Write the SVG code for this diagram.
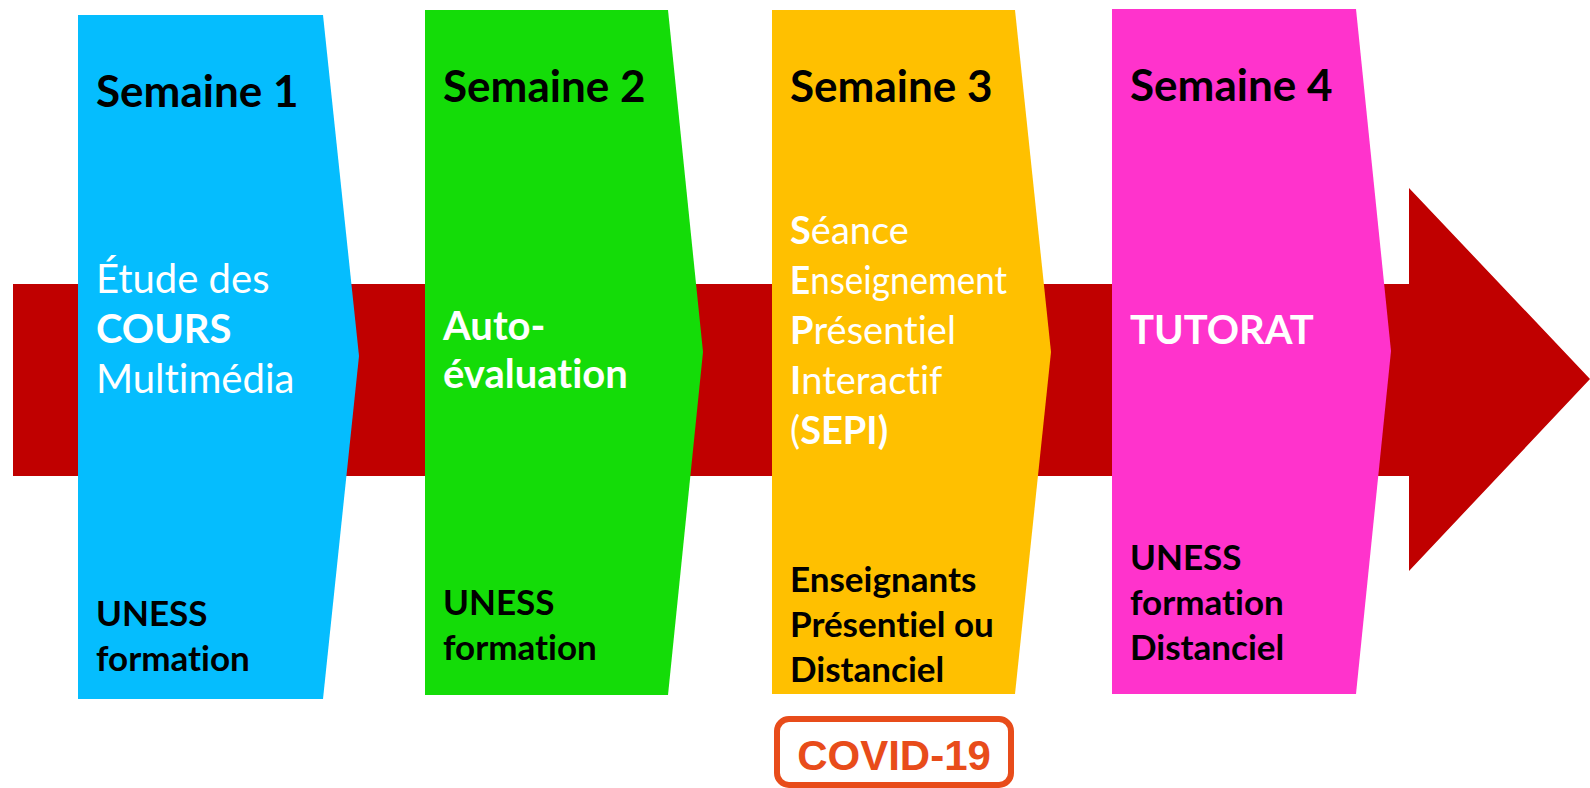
<svg xmlns="http://www.w3.org/2000/svg" width="1590" height="788" viewBox="0 0 1590 788">
<style>
text{font-family:Lato,"Open Sans","Liberation Sans",sans-serif;font-variant-ligatures:none}
.h{font-size:44px;font-weight:bold;fill:#000}
.w{font-size:40px;fill:#fff}
.s{font-size:38px;fill:#fff}
.wb{font-size:40px;fill:#fff;font-weight:bold}
.f{font-size:35px;font-weight:bold;fill:#000}
.b{font-weight:bold}
</style>
<rect width="1590" height="788" fill="#fff"/>
<g id="connectors">
<polygon points="13,284 1409,284 1409,188 1590,379 1409,571 1409,476 13,476" fill="#C00000"/>
</g>
<g id="semaine1">
<polygon points="78,15 323,15 359,356 323,699 78,699" fill="#05BDFE"/>
<text class="h" x="96" y="107">Semaine 1</text>
<text class="w" x="96" y="293">Étude des</text>
<text class="wb" x="96" y="343">COURS</text>
<text class="w" x="96" y="393">Multimédia</text>
<text class="f" x="96" y="626">UNESS</text>
<text class="f" x="96" y="671">formation</text>
</g>
<g id="semaine2">
<polygon points="425,10 668,10 703,352 668,695 425,695" fill="#14DC08"/>
<text class="h" x="443" y="102">Semaine 2</text>
<text class="wb" x="443" y="340">Auto-</text>
<text class="wb" x="443" y="388">évaluation</text>
<text class="f" x="443" y="615">UNESS</text>
<text class="f" x="443" y="660">formation</text>
</g>
<g id="semaine3">
<polygon points="772,10 1015,10 1051,352 1015,694 772,694" fill="#FFC000"/>
<text class="h" x="790" y="102">Semaine 3</text>
<text class="s" x="790" y="244"><tspan class="b">S</tspan>éance</text>
<text class="s" x="790" y="294" textLength="217" lengthAdjust="spacingAndGlyphs"><tspan class="b">E</tspan>nseignement</text>
<text class="s" x="790" y="344"><tspan class="b">P</tspan>résentiel</text>
<text class="s" x="790" y="394"><tspan class="b">I</tspan>nteractif</text>
<text class="s" x="790" y="444">(<tspan class="b">SEPI)</tspan></text>
<text class="f" x="790" y="592">Enseignants</text>
<text class="f" x="790" y="637">Présentiel ou</text>
<text class="f" x="790" y="682">Distanciel</text>
</g>
<g id="semaine4">
<polygon points="1112,9 1356,9 1391,351 1356,694 1112,694" fill="#FF33CC"/>
<text class="h" x="1130" y="101">Semaine 4</text>
<text class="wb" x="1130" y="344">TUTORAT</text>
<text class="f" x="1130" y="570">UNESS</text>
<text class="f" x="1130" y="615">formation</text>
<text class="f" x="1130" y="660">Distanciel</text>
</g>
<g id="covid">
<rect x="777" y="719" width="234" height="66" rx="12" fill="#fff" stroke="#E84C1A" stroke-width="6"/>
<text x="894" y="770" text-anchor="middle" style="font-family:'Liberation Sans',Arial,sans-serif;font-size:42px;font-weight:bold;fill:#E84C1A">COVID-19</text>
</g>
</svg>
